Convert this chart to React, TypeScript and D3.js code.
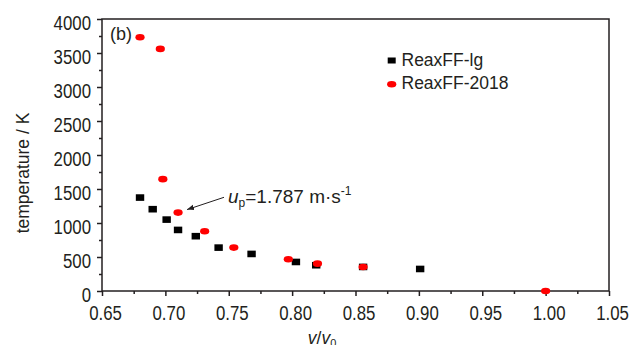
import { useEffect, useRef } from "react";
import * as d3 from "d3";

// ReaxFF-lg (black squares)
const lgV = [0.68, 0.69, 0.701, 0.71, 0.724, 0.742, 0.768, 0.803, 0.819, 0.856, 0.901];
const lgT = [1374, 1203, 1050, 898, 806, 638, 545, 427, 379, 354, 324];

// ReaxFF-2018 (red dots)
const r18V = [0.68, 0.696, 0.698, 0.71, 0.731, 0.754, 0.797, 0.82, 0.856, 1.0];
const r18T = [3731, 3560, 1645, 1153, 879, 638, 467, 402, 354, 0];

const xTicks = [0.65, 0.7, 0.75, 0.8, 0.85, 0.9, 0.95, 1.0, 1.05];
const xMinor = [0.675, 0.725, 0.775, 0.825, 0.875, 0.925, 0.975, 1.025];
const yTicks = [0, 500, 1000, 1500, 2000, 2500, 3000, 3500, 4000];
const yMinor = [250, 750, 1250, 1750, 2250, 2750, 3250, 3750];

const width = 638;
const height = 345;
const margin = { top: 19, right: 29, bottom: 54, left: 102 };

const font = "'Liberation Sans', Arial, sans-serif";

// tick labels in the original use a condensed face; squeeze the regular one
function narrow(g: d3.Selection<SVGGElement, unknown, null, undefined>) {
    g.selectAll<SVGTextElement, unknown>("text")
        .attr("font-family", font)
        .attr("font-size", 20.5)
        .attr("fill", "#231f20")
        .each(function () {
            const w = this.getComputedTextLength();
            d3.select(this).attr("textLength", w * 0.82).attr("lengthAdjust", "spacingAndGlyphs");
        });
}

export default function App() {
    const xAxisRef = useRef<SVGGElement | null>(null);
    const yAxisRef = useRef<SVGGElement | null>(null);

    const x = d3.scaleLinear().domain([0.65, 1.05]).range([margin.left, width - margin.right]);
    const y = d3.scaleLinear().domain([0, 4000]).range([height - margin.bottom, margin.top]);

    useEffect(() => {
        const gx = d3.select(xAxisRef.current);
        gx.selectAll("*").remove();
        gx.append("g")
            .call(d3.axisBottom(x).tickValues(xMinor).tickSize(3).tickFormat(() => ""))
            .call((g) => g.select(".domain").remove());
        gx.append("g")
            .call(d3.axisBottom(x).tickValues(xTicks).tickSize(5).tickPadding(9).tickFormat(d3.format(".2f")))
            .call((g) => g.select(".domain").remove())
            .call((g) => g.selectAll("text").attr("dx", 3))
            .call(narrow);
        gx.selectAll("line").attr("stroke", "#231f20").attr("stroke-width", 1.5);

        const gy = d3.select(yAxisRef.current);
        gy.selectAll("*").remove();
        gy.append("g")
            .call(d3.axisLeft(y).tickValues(yMinor).tickSize(3).tickFormat(() => ""))
            .call((g) => g.select(".domain").remove());
        gy.append("g")
            .call(d3.axisLeft(y).tickValues(yTicks).tickSize(5).tickPadding(6).tickFormat(d3.format("d")))
            .call((g) => g.select(".domain").remove())
            .call((g) => g.selectAll("text").attr("dy", "0.5em"))
            .call(narrow);
        gy.selectAll("line").attr("stroke", "#231f20").attr("stroke-width", 1.5);
    }, []);

    const tipX = x(0.71) + 9;
    const tipY = y(1153) - 3;

    return (
        <svg
            width={width}
            height={height}
            style={{ position: "absolute", left: 0, top: 0, background: "#fff" }}
        >
            <defs>
                <marker id="arr" viewBox="0 0 10 10" refX="10" refY="5" markerWidth="7" markerHeight="7" orient="auto-start-reverse">
                    <path d="M0,1 L10,5 L0,9 z" fill="#231f20" />
                </marker>
            </defs>
            <g ref={xAxisRef} transform={`translate(0,${height - margin.bottom})`} />
            <g ref={yAxisRef} transform={`translate(${margin.left},0)`} />
            <rect
                x={x(0.65)}
                y={y(4000)}
                width={x(1.05) - x(0.65)}
                height={y(0) - y(4000)}
                fill="none"
                stroke="#231f20"
                strokeWidth={1.5}
            />

            {lgV.map((v, i) => (
                <rect key={"lg" + i} x={x(v) - 4.2} y={y(lgT[i]) - 3.3} width={8.4} height={6.6} fill="#000" />
            ))}
            {r18V.map((v, i) => (
                <ellipse key={"r" + i} cx={x(v)} cy={y(r18T[i])} rx={4.6} ry={3.3} fill="#ff0000" />
            ))}

            <text x={110} y={40} fontFamily={font} fontSize={18} fill="#231f20">(b)</text>

            {/* legend */}
            <rect x={387.7} y={57.5} width={8} height={6} fill="#000" />
            <text x={401.5} y={66} fontFamily={font} fontSize={17.5} fill="#231f20">ReaxFF-lg</text>
            <ellipse cx={391.7} cy={84.3} rx={4.6} ry={3.3} fill="#ff0000" />
            <text x={401.5} y={89} fontFamily={font} fontSize={17.5} fill="#231f20">ReaxFF-2018</text>

            {/* annotation */}
            <line x1={224} y1={197.3} x2={tipX} y2={tipY} stroke="#231f20" strokeWidth={1} markerEnd="url(#arr)" />
            <text x={228} y={203} fontFamily={font} fontSize={19} fill="#231f20">
                <tspan fontStyle="italic">u</tspan>
                <tspan fontSize={12} dy={4}>p</tspan>
                <tspan dy={-4}>=1.787 m·s</tspan>
                <tspan fontSize={12} dy={-8}>-1</tspan>
            </text>

            {/* axis titles */}
            <text
                transform={`translate(29,${(y(0) + y(4000)) / 2 + 18}) rotate(-90)`}
                textAnchor="middle"
                fontFamily={font}
                fontSize={17.5}
                fill="#231f20"
            >
                temperature / K
            </text>
            <text x={322} y={344} textAnchor="middle" fontFamily={font} fontSize={17.5} fill="#231f20">
                <tspan fontStyle="italic">v</tspan>
                <tspan>/</tspan>
                <tspan fontStyle="italic">v</tspan>
                <tspan fontSize={11} dy={3}>0</tspan>
            </text>
        </svg>
    );
}
